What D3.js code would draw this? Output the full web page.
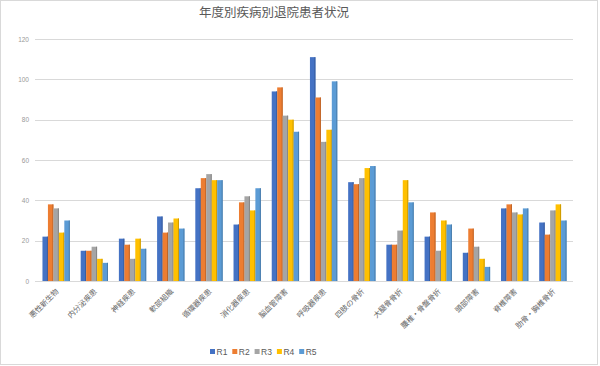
<!DOCTYPE html>
<html><head><meta charset="utf-8">
<script src="https://cdn.jsdelivr.net/npm/d3@7"></script>
<style>body{margin:0;background:#fff}svg{display:block}</style>
</head><body>
<script>
const categories = ["悪性新生物","内分泌疾患","神経疾患","軟部組織","循環器疾患","消化器疾患","脳血管障害","呼吸器疾患","四肢の骨折","大腿骨骨折","腰椎・骨盤骨折","頭部障害","脊椎障害","肋骨・胸椎骨折"];
const seriesNames = ["R1","R2","R3","R4","R5"];
const R1 = [22,15,21,32,46,28,94,111,49,18,22,14,36,29];
const R2 = [38,15,18,24,51,39,96,91,48,18,34,26,38,23];
const R3 = [36,17,11,29,53,42,82,69,51,25,15,17,34,35];
const R4 = [24,11,21,31,50,35,80,75,56,50,30,11,33,38];
const R5 = [30,9,16,26,50,46,74,99,57,39,28,7,36,30];
const yTicks = [0,20,40,60,80,100,120];
const colors = ["#4472C4","#ED7D31","#A5A5A5","#FFC000","#5B9BD5"];
const title = "年度別疾病別退院患者状況";

const seriesVals = [R1,R2,R3,R4,R5];
const W=600,H=366;
const svg=d3.select("body").append("svg").attr("width",W).attr("height",H);
svg.append("rect").attr("x",0.5).attr("y",0.5).attr("width",597).attr("height",364)
  .attr("fill","#fff").attr("stroke","#d9d9d9");

const font="'Noto Sans CJK JP','Noto Sans',sans-serif";
svg.append("text").attr("x",274).attr("y",17).attr("text-anchor","middle")
  .attr("font-family",font).attr("font-size",12.5).style("fill","#595959").text(title);

const x0=d3.scaleBand().domain(categories).range([37,572]).paddingInner(0.285).paddingOuter(0.143);
const x1=d3.scaleBand().domain(seriesNames).range([0,x0.bandwidth()]);
const y=d3.scaleLinear().domain([0,120]).range([281,39]);

const grid=svg.append("g");
grid.selectAll("line").data(yTicks).join("line")
  .attr("x1",35).attr("x2",573).attr("y1",d=>Math.round(y(d))+0.5).attr("y2",d=>Math.round(y(d))+0.5)
  .attr("stroke","#d9d9d9").attr("stroke-width",1);

const yAxis=d3.axisLeft(y).tickValues(yTicks).tickSize(0).tickPadding(0);
svg.append("g").attr("transform","translate(29,0)").call(yAxis)
  .call(g=>g.select(".domain").remove())
  .call(g=>g.selectAll("text").attr("font-family","'Liberation Sans',Arial,sans-serif").attr("font-size",6.5).style("fill","#999"));

const groups=svg.append("g").selectAll("g").data(categories).join("g")
  .attr("transform",d=>`translate(${x0(d)},0)`);
groups.each(function(c,i){
  const g=d3.select(this);
  seriesNames.forEach((s,j)=>{
    const v=seriesVals[j][i];
    const bx=x1(s), bw=x1.bandwidth();
    g.append("rect").attr("x",bx).attr("y",y(v)).attr("width",bw).attr("height",y(0)-y(v))
      .attr("fill",colors[j]);
    g.append("rect").attr("x",bx+bw-1).attr("y",y(v)).attr("width",1).attr("height",y(0)-y(v))
      .attr("fill",d3.color(colors[j]).darker(0.6));
  });
});

const xAxis=d3.axisBottom(x0).tickSize(0).tickPadding(0);
svg.append("g").attr("transform","translate(0,281)").call(xAxis)
  .call(g=>g.select(".domain").attr("stroke","#d9d9d9"))
  .call(g=>g.selectAll("text").attr("font-family",font).attr("font-size",7.5).style("fill","#666")
    .attr("text-anchor","end").attr("dy",0).attr("transform","translate(3,11) rotate(-45)"));

const leg=svg.append("g").attr("transform","translate(210,354)");
seriesNames.forEach((s,j)=>{
  const g=leg.append("g").attr("transform",`translate(${j*22.3},0)`);
  g.append("rect").attr("x",0).attr("y",-5).attr("width",5).attr("height",5).attr("fill",colors[j]);
  g.append("text").attr("x",6.5).attr("y",0.5).attr("font-family","'Liberation Sans',Arial,sans-serif")
    .attr("font-size",8.5).style("fill","#595959").text(s);
});
</script>
</body></html>
